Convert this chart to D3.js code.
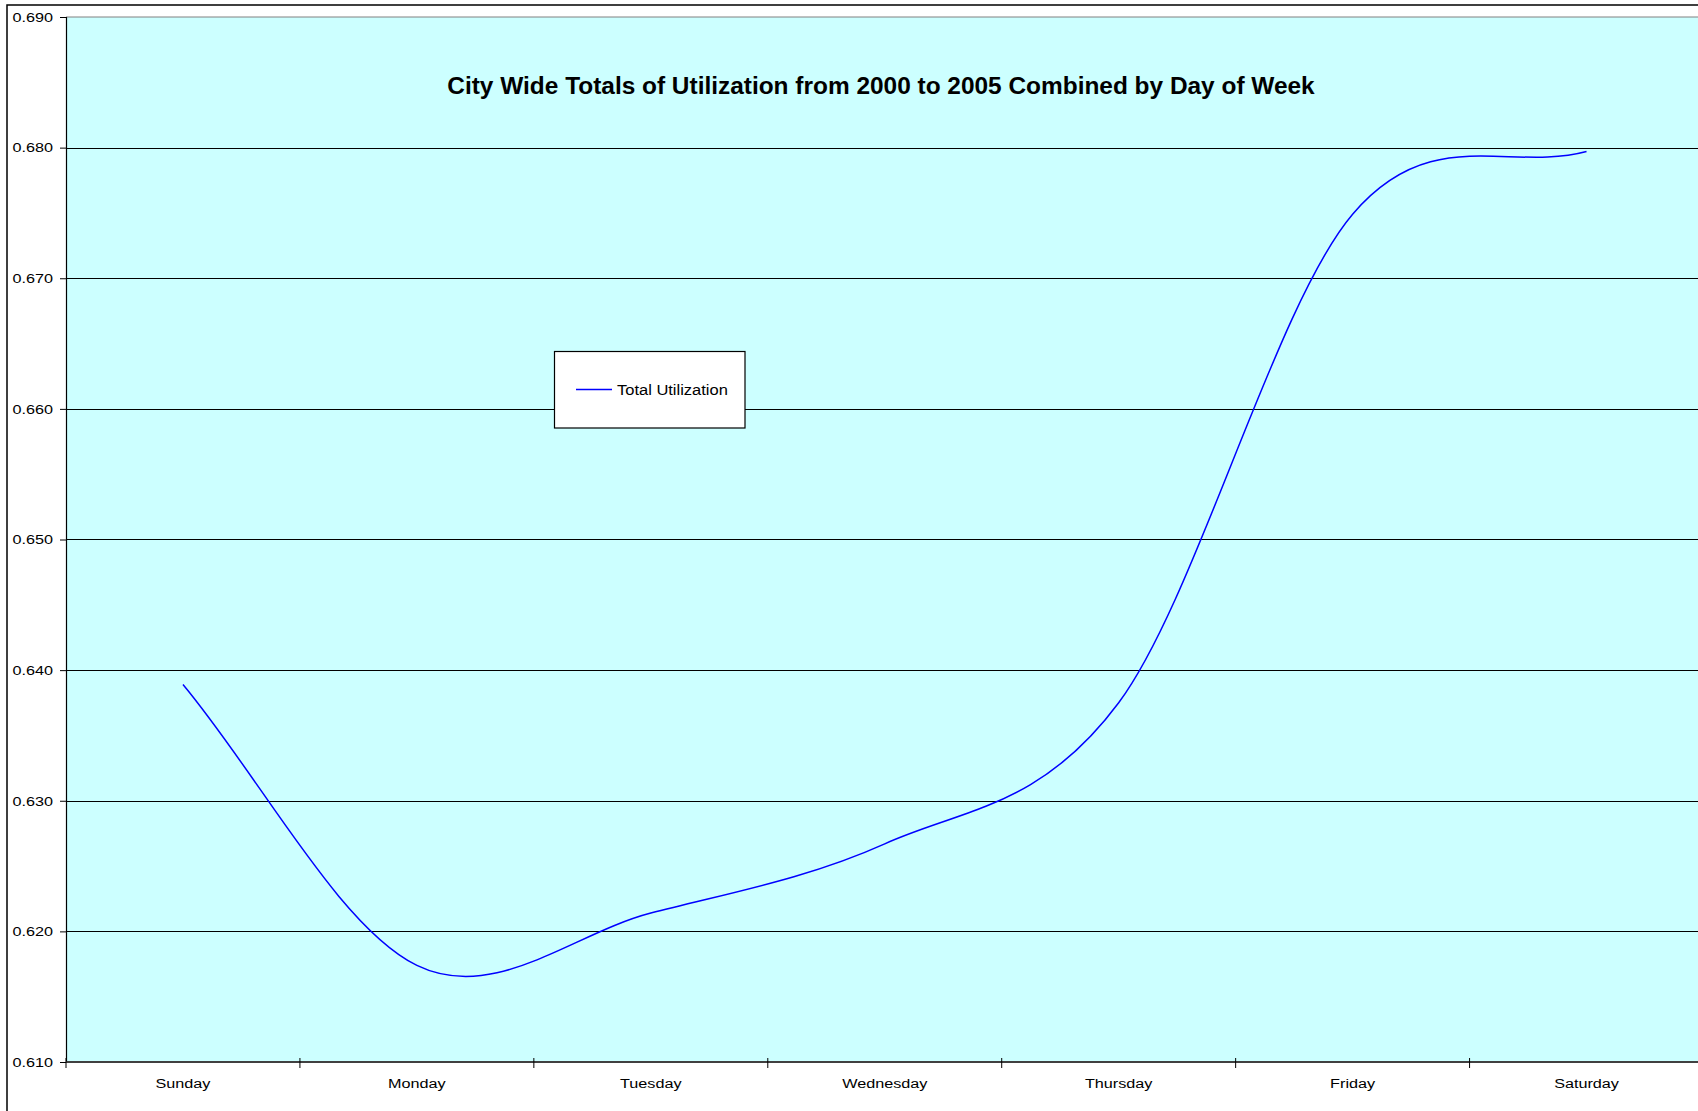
<!DOCTYPE html>
<html>
<head>
<meta charset="utf-8">
<script src="https://cdn.jsdelivr.net/npm/d3@7"></script>
<style>
  html, body { margin: 0; padding: 0; background: #fff; }
  svg { display: block; font-family: "Liberation Sans", Arial, sans-serif; }
</style>
</head>
<body>
<svg id="chart" width="1698" height="1111"></svg>
<script>
// ---- data ----
const days = ["Sunday", "Monday", "Tuesday", "Wednesday", "Thursday", "Friday", "Saturday"];
const utilization = [0.6389, 0.6174, 0.6214, 0.6267, 0.6375, 0.6749, 0.6797];
const yTickValues = [0.610, 0.620, 0.630, 0.640, 0.650, 0.660, 0.670, 0.680, 0.690];
const titleText = "City Wide Totals of Utilization from 2000 to 2005 Combined by Day of Week";
const seriesName = "Total Utilization";

// ---- layout ----
const W = 1698, H = 1111;
const plot = { left: 66, top: 17, right: 1703.5, bottom: 1062 };
const FONT = "'Liberation Sans', Arial, sans-serif";
const STRETCH = 1.2;

// Spreadsheet-style smoothed line: Bezier segments, interior tangents (P[i+1]-P[i-1])/6,
// end control points one third of the way along the end chord.
function SmoothCurve(context) { this._context = context; }
SmoothCurve.prototype = {
  areaStart() { this._line = 0; },
  areaEnd() { this._line = NaN; },
  lineStart() { this._pts = []; },
  point(px, py) { this._pts.push([+px, +py]); },
  lineEnd() {
    const p = this._pts, n = p.length, c = this._context;
    if (!n) return;
    c.moveTo(p[0][0], p[0][1]);
    if (n === 1) return;
    for (let i = 0; i < n - 1; i++) {
      const a = p[i], b = p[i + 1];
      let c1, c2;
      if (i === 0) c1 = [a[0] + (b[0] - a[0]) / 3, a[1] + (b[1] - a[1]) / 3];
      else c1 = [a[0] + (b[0] - p[i - 1][0]) / 6, a[1] + (b[1] - p[i - 1][1]) / 6];
      if (i === n - 2) c2 = [b[0] - (b[0] - a[0]) / 3, b[1] - (b[1] - a[1]) / 3];
      else c2 = [b[0] - (p[i + 2][0] - a[0]) / 6, b[1] - (p[i + 2][1] - a[1]) / 6];
      c.bezierCurveTo(c1[0], c1[1], c2[0], c2[1], b[0], b[1]);
    }
  }
};
const curveSmooth = ctx => new SmoothCurve(ctx);

const svg = d3.select("#chart");

// outer chart-area frame (cropped on right and bottom)
svg.append("rect")
  .attr("x", 7).attr("y", 5)
  .attr("width", W + 50).attr("height", H + 50)
  .attr("fill", "#ffffff")
  .attr("stroke", "#000").attr("stroke-width", 1.5);

const x = d3.scaleBand().domain(days).range([plot.left, plot.right]).paddingInner(0).paddingOuter(0);
const y = d3.scaleLinear().domain([0.61, 0.69]).range([plot.bottom, plot.top]);

// plot area
svg.append("rect")
  .attr("x", plot.left).attr("y", plot.top)
  .attr("width", plot.right - plot.left).attr("height", plot.bottom - plot.top)
  .attr("fill", "#CCFFFF");

// top border of plot area (gray)
svg.append("line")
  .attr("x1", plot.left).attr("x2", plot.right)
  .attr("y1", y(0.69)).attr("y2", y(0.69))
  .attr("stroke", "#808080").attr("stroke-width", 1);

// gridlines
svg.append("g").selectAll("line")
  .data(yTickValues.filter(v => v > 0.6101 && v < 0.6899))
  .join("line")
  .attr("x1", plot.left).attr("x2", plot.right)
  .attr("y1", d => Math.round(y(d)) + 0.5).attr("y2", d => Math.round(y(d)) + 0.5)
  .attr("stroke", "#000").attr("stroke-width", 1);

// y axis
const yAxis = d3.axisLeft(y).tickValues(yTickValues).tickFormat(d3.format(".3f")).tickSizeOuter(0).tickSize(6).tickPadding(7);
const gy = svg.append("g").attr("transform", `translate(${plot.left},0)`).call(yAxis);
gy.select(".domain").attr("stroke", "#000").attr("stroke-width", 1.2);
gy.selectAll(".tick line").attr("stroke", "#000");
gy.selectAll(".tick text").attr("font-size", 13.5).attr("fill", "#000")
  .attr("font-family", FONT)
  .attr("x", -13 / STRETCH)
  .attr("transform", `scale(${STRETCH},1)`);

// x axis (labels at band centers, ticks at band boundaries)
const xAxis = d3.axisBottom(x).tickSize(0).tickPadding(0).tickSizeOuter(0);
const gx = svg.append("g").attr("transform", `translate(0,${plot.bottom})`).call(xAxis);
gx.select(".domain").remove();
gx.selectAll(".tick text").attr("font-size", 13.5).attr("fill", "#000")
  .attr("font-family", FONT)
  .attr("dy", null).attr("y", 26)
  .attr("transform", `scale(${STRETCH},1)`);

svg.append("line")
  .attr("x1", plot.left).attr("x2", plot.right)
  .attr("y1", plot.bottom).attr("y2", plot.bottom)
  .attr("stroke", "#404040").attr("stroke-width", 2);

svg.append("g").selectAll("line")
  .data(days)
  .join("line")
  .attr("x1", d => x(d)).attr("x2", d => x(d))
  .attr("y1", plot.bottom - 4).attr("y2", plot.bottom + 6)
  .attr("stroke", "#000").attr("stroke-width", 1);

// title
const title = svg.append("text")
  .attr("x", 881).attr("y", 85)
  .attr("text-anchor", "middle").attr("dominant-baseline", "central")
  .attr("font-weight", "bold").attr("font-size", 20)
  .attr("fill", "#000")
  .text(titleText);
const tw = title.node().getComputedTextLength();
title.attr("font-size", 20 * 868 / tw);

// series line
const line = d3.line()
  .x((d, i) => x(days[i]) + x.bandwidth() / 2)
  .y(d => y(d))
  .curve(curveSmooth);

svg.append("path")
  .datum(utilization)
  .attr("d", line)
  .attr("fill", "none")
  .attr("stroke", "#0000FF")
  .attr("stroke-width", 1.5);

// legend
const lg = svg.append("g");
lg.append("rect")
  .attr("x", 554.5).attr("y", 351.5)
  .attr("width", 190.5).attr("height", 76.5)
  .attr("fill", "#fff").attr("stroke", "#000").attr("stroke-width", 1.2);
lg.append("line")
  .attr("x1", 576).attr("x2", 612)
  .attr("y1", 389.5).attr("y2", 389.5)
  .attr("stroke", "#0000FF").attr("stroke-width", 1.5);
const lt = lg.append("text")
  .attr("x", 617).attr("y", 389.5)
  .attr("dominant-baseline", "central")
  .attr("font-size", 15).attr("fill", "#000")
  .attr("font-family", FONT)
  .text(seriesName);
const lw = lt.node().getComputedTextLength();
lt.attr("transform", `translate(617,0) scale(${111 / lw},1) translate(-617,0)`);
</script>
</body>
</html>
